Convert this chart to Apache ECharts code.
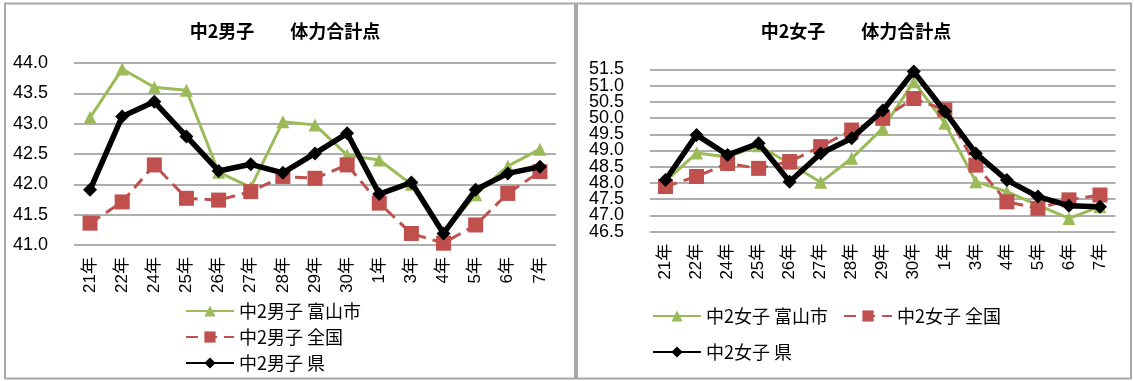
<!DOCTYPE html>
<html>
<head>
<meta charset="utf-8">
<script src="https://cdn.jsdelivr.net/npm/echarts@6/dist/echarts.min.js"></script>
<style>
  html, body { margin: 0; padding: 0; background: #fff; }
  #chart { width: 1134px; height: 381px; }
</style>
</head>
<body>
<div id="chart"></div>
<script>
// 年度（平成21年〜令和7年）
const years = ['21年','22年','24年','25年','26年','27年','28年','29年','30年','1年','3年','4年','5年','6年','7年'];

// 中2男子 体力合計点
const boysCity     = [43.1, 43.9, 43.6, 43.55, 42.2, 41.95, 43.03, 42.98, 42.48, 42.4, 42.0, 41.2, 41.83, 42.3, 42.58];
const boysNational = [41.36, 41.71, 42.32, 41.77, 41.74, 41.88, 42.13, 42.1, 42.32, 41.69, 41.19, 41.03, 41.33, 41.85, 42.21];
const boysPref     = [41.91, 43.12, 43.36, 42.79, 42.22, 42.33, 42.19, 42.51, 42.84, 41.84, 42.03, 41.19, 41.91, 42.18, 42.29];

// 中2女子 体力合計点
const girlsCity     = [48.05, 48.92, 48.8, 49.15, 48.6, 48.02, 48.76, 49.68, 51.12, 49.84, 48.04, 47.73, 47.32, 46.91, 47.27];
const girlsNational = [47.89, 48.2, 48.6, 48.45, 48.66, 49.12, 49.63, 49.99, 50.6, 50.25, 48.55, 47.42, 47.22, 47.48, 47.63];
const girlsPref     = [48.09, 49.48, 48.86, 49.22, 48.04, 48.91, 49.38, 50.23, 51.43, 50.2, 48.91, 48.09, 47.58, 47.3, 47.27];

const boysNames  = ['中2男子 富山市', '中2男子 全国', '中2男子 県'];
const girlsNames = ['中2女子 富山市', '中2女子 全国', '中2女子 県'];

const FONT = '"Noto Sans CJK JP", "Noto Sans", sans-serif';
const NUM_FONT = '"Liberation Sans", "Noto Sans CJK JP", sans-serif';
const GREEN = '#9bbb59', RED = '#c0504d', BLACK = '#000000', GRID = '#939393';

const chart = echarts.init(document.getElementById('chart'), null, { renderer: 'canvas' });

function xAxis(gridIndex, margin) {
  return {
    type: 'category', gridIndex, data: years, boundaryGap: true,
    axisLine: { show: false }, axisTick: { show: false },
    axisLabel: { rotate: 90, fontFamily: NUM_FONT, fontSize: 17, color: '#000', margin, interval: 0 }
  };
}
// labelFilter picks which tick values this axis prints
function yAxis(gridIndex, min, max, fontSize, showGrid, labelFilter) {
  return {
    type: 'value', gridIndex, min, max, interval: 0.5, position: 'left',
    axisLine: { show: false }, axisTick: { show: false },
    splitLine: { show: showGrid, lineStyle: { color: GRID, width: 1.6 } },
    axisLabel: { fontFamily: NUM_FONT, fontSize, color: '#000', margin: 26,
                 showMinLabel: true, showMaxLabel: true, hideOverlap: false,
                 formatter: v => (labelFilter(v) ? v.toFixed(1) : '') }
  };
}
const isHalf = v => Math.abs(v * 2 % 2 - 1) < 1e-6;
const isWhole = v => !isHalf(v);

function lines(names, city, nat, pref, idx) {
  return [
    { name: names[0], type: 'line', xAxisIndex: idx, yAxisIndex: idx, data: city,
      symbol: 'triangle', symbolSize: 13, color: GREEN,
      lineStyle: { color: GREEN, width: 3 }, itemStyle: { color: GREEN }, z: 2 },
    { name: names[1], type: 'line', xAxisIndex: idx, yAxisIndex: idx, data: nat,
      symbol: 'rect', symbolSize: 15, color: RED,
      lineStyle: { color: RED, width: 3, type: [12, 7] }, itemStyle: { color: RED }, z: 3 },
    { name: names[2], type: 'line', xAxisIndex: idx, yAxisIndex: idx, data: pref,
      symbol: 'diamond', symbolSize: 14, color: BLACK,
      lineStyle: { color: BLACK, width: 5.5 }, itemStyle: { color: BLACK }, z: 4 }
  ];
}

// one legend block per entry, so each can sit on its own row/column
function legendItem(name, left, top) {
  return { data: [name], orient: 'horizontal', left, top, padding: 0,
           itemWidth: 48, itemHeight: 14, selectedMode: false,
           textStyle: { fontFamily: FONT, fontSize: 18, color: '#000' } };
}

const titleStyle = { fontFamily: FONT, fontSize: 18, fontWeight: 'bold', color: '#000' };

chart.setOption({
  backgroundColor: '#ffffff',
  animation: false,
  graphic: [
    { type: 'rect', shape: { x: 5, y: 3.5, width: 570, height: 375 },
      style: { fill: 'none', stroke: '#a8a8a8', lineWidth: 2 }, z: -10 },
    { type: 'rect', shape: { x: 577, y: 3.5, width: 554, height: 375 },
      style: { fill: 'none', stroke: '#a8a8a8', lineWidth: 2 }, z: -10 }
  ],
  title: [
    { text: '中2男子　　体力合計点', left: 280, top: 17, textAlign: 'center', textStyle: titleStyle },
    { text: '中2女子　　体力合計点', left: 851, top: 17, textAlign: 'center', textStyle: titleStyle }
  ],
  legend: [
    legendItem(boysNames[0], 185, 302),
    legendItem(boysNames[1], 185, 328),
    legendItem(boysNames[2], 185, 354),
    legendItem(girlsNames[0], 652, 307),
    legendItem(girlsNames[1], 843, 307),
    legendItem(girlsNames[2], 652, 343)
  ],
  grid: [
    { left: 74, right: 578, top: 63, bottom: 136 },
    { left: 650, right: 18.5, top: 69.3, bottom: 149.3 }
  ],
  xAxis: [xAxis(0, 12), xAxis(1, 12)],
  yAxis: [
    yAxis(0, 41, 44, 18, true, () => true),
    // the girls' ticks are tightly packed: x.5 and x.0 labels go on two stacked axes
    yAxis(1, 46.5, 51.5, 18, true, isHalf),
    yAxis(1, 46.5, 51.5, 18, false, isWhole)
  ],
  series: [
    ...lines(boysNames, boysCity, boysNational, boysPref, 0),
    ...lines(girlsNames, girlsCity, girlsNational, girlsPref, 1)
  ]
});
</script>
</body>
</html>
